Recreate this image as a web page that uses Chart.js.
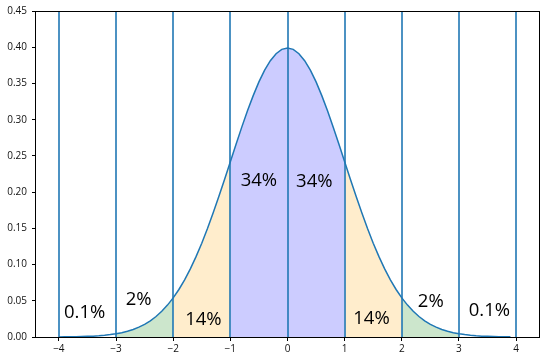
<!DOCTYPE html>
<html>
<head>
<meta charset="utf-8">
<script src="https://cdn.jsdelivr.net/npm/chart.js@4"></script>
<style>
html,body{margin:0;padding:0;background:#fff;}
#c{display:block;}
</style>
</head>
<body>
<canvas id="c" width="545" height="361"></canvas>
<script>
// ---- data ----
const xValues = [
  -4.0,-3.9,-3.8,-3.7,-3.6,-3.5,-3.4,-3.3,-3.2,-3.1,
  -3.0,-2.9,-2.8,-2.7,-2.6,-2.5,-2.4,-2.3,-2.2,-2.1,
  -2.0,-1.9,-1.8,-1.7,-1.6,-1.5,-1.4,-1.3,-1.2,-1.1,
  -1.0,-0.9,-0.8,-0.7,-0.6,-0.5,-0.4,-0.3,-0.2,-0.1,
   0.0, 0.1, 0.2, 0.3, 0.4, 0.5, 0.6, 0.7, 0.8, 0.9,
   1.0, 1.1, 1.2, 1.3, 1.4, 1.5, 1.6, 1.7, 1.8, 1.9,
   2.0, 2.1, 2.2, 2.3, 2.4, 2.5, 2.6, 2.7, 2.8, 2.9,
   3.0, 3.1, 3.2, 3.3, 3.4, 3.5, 3.6, 3.7, 3.8, 3.9
];
const densityValues = [
  0.0001,0.0002,0.0003,0.0004,0.0006,0.0009,0.0012,0.0017,0.0024,0.0033,
  0.0044,0.0060,0.0079,0.0104,0.0136,0.0175,0.0224,0.0283,0.0355,0.0440,
  0.0540,0.0656,0.0790,0.0940,0.1109,0.1295,0.1497,0.1714,0.1942,0.2179,
  0.2420,0.2661,0.2897,0.3123,0.3332,0.3521,0.3683,0.3814,0.3910,0.3970,
  0.3989,0.3970,0.3910,0.3814,0.3683,0.3521,0.3332,0.3123,0.2897,0.2661,
  0.2420,0.2179,0.1942,0.1714,0.1497,0.1295,0.1109,0.0940,0.0790,0.0656,
  0.0540,0.0440,0.0355,0.0283,0.0224,0.0175,0.0136,0.0104,0.0079,0.0060,
  0.0044,0.0033,0.0024,0.0017,0.0012,0.0009,0.0006,0.0004,0.0003,0.0002
];
const regionStarts = [-1, -2, 1, -3, 2];
const regionEnds   = [ 1, -1, 2, -2, 3];
const regionNames  = ['blue', 'orange', 'orange', 'green', 'green'];
const vLineX = [-4, -3, -2, -1, 0, 1, 2, 3, 4];
const xTickValues = [-4, -3, -2, -1, 0, 1, 2, 3, 4];
const xTickLabels = ['\u22124', '\u22123', '\u22122', '\u22121', '0', '1', '2', '3', '4'];
const yTickValues = [0, 0.05, 0.10, 0.15, 0.20, 0.25, 0.30, 0.35, 0.40, 0.45];
const labelTexts = ['0.1%', '2%', '14%', '34%', '34%', '14%', '2%', '0.1%'];
const labelX = [-3.91, -2.83, -1.79, -0.82, 0.15, 1.15, 2.28, 3.17];
const labelY = [0.026, 0.044, 0.016, 0.208, 0.207, 0.018, 0.041, 0.029];

// ---- styles ----
const fillColors = {
  blue: 'rgba(0,0,255,0.2)',
  orange: 'rgba(255,165,0,0.2)',
  green: 'rgba(0,128,0,0.2)'
};

const curvePoints = xValues.map((x, i) => ({x: x, y: densityValues[i]}));

const datasets = [{
  data: curvePoints,
  borderColor: '#1f77b4',
  borderWidth: 1.5,
  pointRadius: 0,
  tension: 0,
  fill: false
}];
regionStarts.forEach((a, k) => {
  const b = regionEnds[k];
  datasets.push({
    data: curvePoints.filter(p => p.x >= a - 1e-9 && p.x <= b + 1e-9),
    borderWidth: 0,
    borderColor: 'rgba(0,0,0,0)',
    backgroundColor: fillColors[regionNames[k]],
    pointRadius: 0,
    tension: 0,
    fill: 'origin'
  });
});

const overlay = {
  id: 'overlay',
  afterDatasetsDraw(chart) {
    const ctx = chart.ctx, xs = chart.scales.x, ys = chart.scales.y, ca = chart.chartArea;
    ctx.save();
    // text labels
    ctx.fillStyle = '#000';
    ctx.font = '18.5px "Open Sans"';
    ctx.textAlign = 'left';
    ctx.textBaseline = 'alphabetic';
    labelTexts.forEach((t, i) => {
      ctx.fillText(t, xs.getPixelForValue(labelX[i]), ys.getPixelForValue(labelY[i]));
    });
    // vertical lines
    ctx.strokeStyle = 'rgba(31,119,180,0.8)';
    ctx.lineWidth = 2;
    vLineX.forEach(v => {
      const px = Math.round(xs.getPixelForValue(v));
      ctx.beginPath();
      ctx.moveTo(px, ca.top);
      ctx.lineTo(px, ca.bottom);
      ctx.stroke();
    });
    // frame
    ctx.strokeStyle = '#000';
    ctx.lineWidth = 1;
    ctx.strokeRect(Math.round(ca.left) - 0.5, Math.round(ca.top) + 0.5,
                   Math.round(ca.right - ca.left) + 1, Math.round(ca.bottom - ca.top));
    ctx.restore();
  }
};

new Chart(document.getElementById('c'), {
  type: 'line',
  data: {datasets: datasets},
  options: {
    responsive: false,
    animation: false,
    devicePixelRatio: 1,
    layout: {padding: {top: 11, right: 6, left: 0, bottom: 0}},
    plugins: {legend: {display: false}, tooltip: {enabled: false}},
    scales: {
      x: {
        type: 'linear',
        min: -4.4,
        max: 4.4,
        afterBuildTicks(scale) { scale.ticks = xTickValues.map(v => ({value: v})); },
        afterFit(scale) { scale.height = 24; },
        grid: {drawOnChartArea: false, drawTicks: true, tickLength: 4, color: '#000'},
        border: {display: false},
        ticks: {
          autoSkip: false,
          maxRotation: 0,
          padding: 2,
          color: '#111',
          font: {family: '"Open Sans"', size: 10},
          callback(v) { const i = xTickValues.indexOf(v); return i >= 0 ? xTickLabels[i] : ''; }
        }
      },
      y: {
        type: 'linear',
        min: 0,
        max: 0.45,
        afterBuildTicks(scale) { scale.ticks = yTickValues.map(v => ({value: v})); },
        afterFit(scale) { scale.width = 36; },
        grid: {drawOnChartArea: false, drawTicks: true, tickLength: 4, color: '#000'},
        border: {display: false},
        ticks: {
          autoSkip: false,
          padding: 5,
          color: '#111',
          font: {family: '"Open Sans"', size: 10},
          callback(v) { return Number(v).toFixed(2); }
        }
      }
    }
  },
  plugins: [overlay]
});
</script>
</body>
</html>
